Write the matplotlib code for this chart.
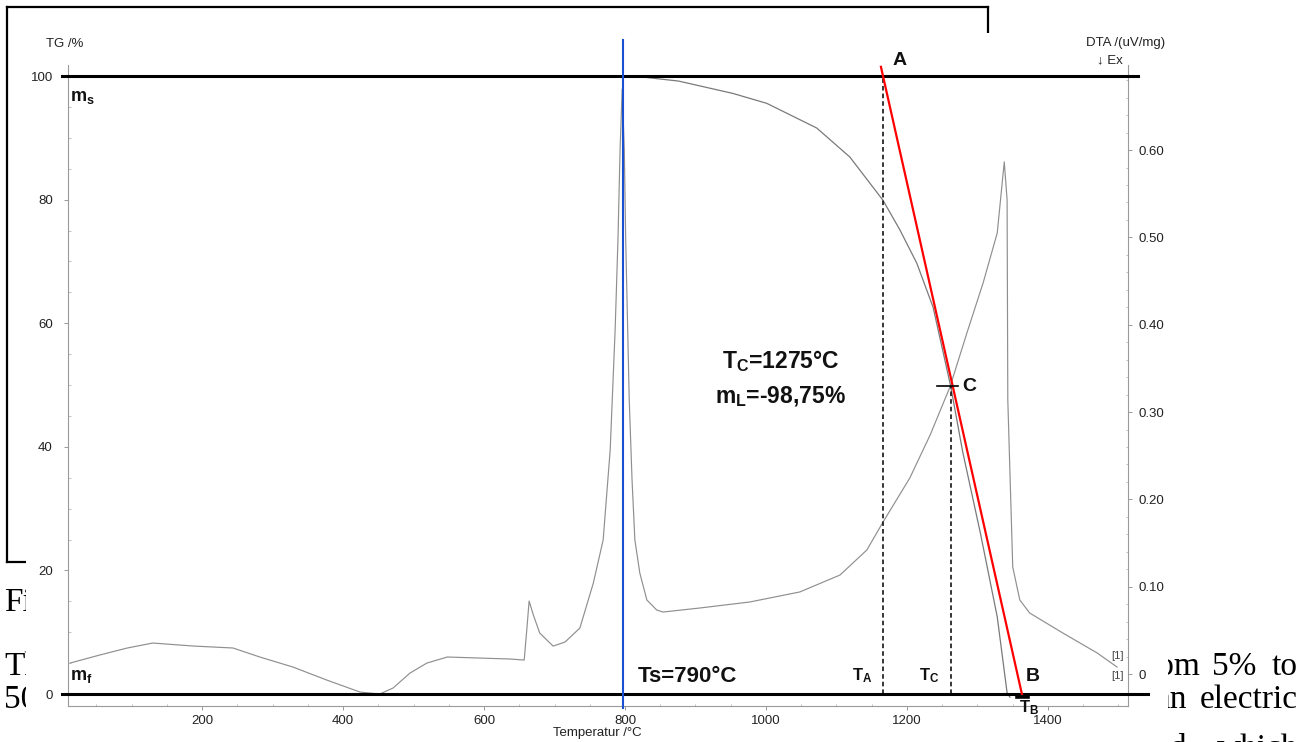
import matplotlib
matplotlib.use("Agg")
import matplotlib.pyplot as plt
from matplotlib.patches import Rectangle
from matplotlib.lines import Line2D
import numpy as np

plt.rcParams['font.family'] = ['Liberation Sans', 'DejaVu Sans']
plt.rcParams['mathtext.fontset'] = 'custom'
plt.rcParams['mathtext.rm'] = 'Liberation Sans'
plt.rcParams['mathtext.bf'] = 'Liberation Sans:bold'
plt.rcParams['mathtext.it'] = 'Liberation Sans:italic'

# ---------------- data ----------------
tg_T = [15, 400, 700, 821, 876, 953, 1001, 1072, 1119, 1166, 1190, 1214, 1237,
        1262, 1279, 1304, 1328, 1342, 1346]
tg_val = [100.0, 100.0, 100.0, 99.9, 99.2, 97.2, 95.6, 91.6, 86.9, 79.9, 75.1,
          69.7, 62.6, 49.8, 39.2, 26.1, 12.5, 0.2, -0.5]

dta_T = [13, 55, 94, 130, 187, 244, 282, 329, 377, 424, 452, 471, 495, 519, 548,
         594, 637, 657, 661, 664, 670, 679, 698, 715, 736, 755, 769, 779, 786,
         790, 793, 796, 799, 801, 806, 810, 814, 821, 831, 845, 854, 906, 977,
         1048, 1105, 1143, 1166, 1204, 1233, 1261, 1285, 1308, 1328, 1338, 1342,
         1343, 1350, 1360, 1374, 1421, 1470, 1498]
dta_val = [0.0126, 0.0218, 0.0298, 0.0355, 0.0321, 0.0298, 0.0195, 0.0080,
           -0.0069, -0.0206, -0.0229, -0.0160, 0.0011, 0.0126, 0.0195, 0.0183,
           0.0172, 0.0160, 0.0538, 0.0836, 0.0676, 0.0470, 0.0320, 0.0367,
           0.0527, 0.1040, 0.1535, 0.2566, 0.3940, 0.4970, 0.6000, 0.6700,
           0.6000, 0.4970, 0.3140, 0.2220, 0.1535, 0.1157, 0.0848, 0.0733,
           0.0710, 0.0756, 0.0825, 0.0940, 0.1134, 0.1420, 0.1740, 0.2245,
           0.2740, 0.3288, 0.3906, 0.4479, 0.5050, 0.5865, 0.5430, 0.3139,
           0.1226, 0.0848, 0.0699, 0.0470, 0.0240, 0.0080]

x_ticks = [200, 400, 600, 800, 1000, 1200, 1400]
tg_ticks = [0, 20, 40, 60, 80, 100]
dta_ticks = [0, 0.1, 0.2, 0.3, 0.4, 0.5, 0.6]
dta_tick_labels = ['0', '0.10', '0.20', '0.30', '0.40', '0.50', '0.60']

m_s, m_f = 100, 0          # reference mass levels
Ts_line = 797              # solidus marker (labelled 790 °C)
T_A, T_C, T_B = 1166, 1262, 1363
C_mass = 49.8

# ---------------- figure ----------------
W, H = 1306, 742
fig = plt.figure(figsize=(W / 100, H / 100), dpi=100)
fx = lambda px: px / W
fy = lambda py: 1 - py / H

# background document (partly hidden behind the chart image)
for xs, ys in [([7, 988], [7, 7]), ([988, 988], [7, 60]), ([7, 7], [7, 562]), ([7, 60], [562, 562])]:
    fig.add_artist(Line2D([fx(v) for v in xs], [fy(v) for v in ys], transform=fig.transFigure,
                          color='black', lw=1.6, zorder=-3))
serif = dict(family='Liberation Serif', fontsize=24, va='baseline', zorder=-3, color='black')
fig.text(fx(4), fy(611), 'Fig', ha='left', **serif)
fig.text(fx(4), fy(675), 'The', ha='left', **serif)
fig.text(fx(4), fy(708), '50', ha='left', **serif)
fig.text(fx(1200), fy(675), 'from', ha='right', **serif)
fig.text(fx(1212), fy(675), '5%', ha='left', **serif)
fig.text(fx(1298), fy(675), 'to', ha='right', **serif)
fig.text(fx(1187), fy(708), 'an', ha='right', **serif)
fig.text(fx(1298), fy(708), 'electric', ha='right', **serif)
fig.text(fx(1187), fy(757), 'ed', ha='right', **serif)
fig.text(fx(1298), fy(757), 'which', ha='right', **serif)
fig.add_artist(Rectangle((fx(26), 0), fx(1168) - fx(26), fy(33), transform=fig.transFigure,
                         facecolor='white', edgecolor='none', zorder=-1))

ax = fig.add_axes([fx(68), fy(706), fx(1128) - fx(68), fy(65) - fy(706)])
ax2 = ax.twinx()
ax.set_zorder(ax2.get_zorder() + 1)
ax.patch.set_visible(False)

ax.set_xlim(9.9, 1513.5)
ax.set_ylim(-1.94, 101.8)
ax2.set_ylim(-0.0366, 0.6974)

spine_c = '#9a9a9a'
for a in (ax, ax2):
    a.spines['top'].set_visible(False)
    for s in ('left', 'right', 'bottom'):
        a.spines[s].set_color(spine_c)
        a.spines[s].set_linewidth(0.8)
        a.spines[s].set_linestyle((0, (2, 1)))
ax.spines['right'].set_visible(False)
ax2.spines['left'].set_visible(False)
ax2.spines['bottom'].set_visible(False)

ax.set_xticks(x_ticks)
ax.set_xticks(np.arange(50, 1501, 50), minor=True)
ax.set_yticks(tg_ticks)
ax.set_yticks(np.arange(0, 101, 5), minor=True)
ax2.set_yticks(dta_ticks)
ax2.set_yticklabels(dta_tick_labels)
ax2.set_yticks(np.arange(0, 0.69, 0.02), minor=True)

ax.tick_params(axis='x', which='major', length=3, width=0.6, color='#888888', pad=3.5,
               labelsize=9.5, labelcolor='#222222')
ax.tick_params(axis='y', which='major', length=3, width=0.6, color='#888888', pad=8,
               labelsize=9.5, labelcolor='#222222')
ax.tick_params(which='minor', length=1.8, width=0.5, color='#aaaaaa', direction='in')
ax2.tick_params(axis='y', which='major', length=3, width=0.6, color='#888888', pad=4.5,
                labelsize=9.5, labelcolor='#222222')
ax2.tick_params(axis='y', which='minor', length=1.8, width=0.5, color='#aaaaaa', direction='in')

# curves
ax2.plot(dta_T, dta_val, color='#8f8f8f', lw=0.85)
ax.plot(tg_T, tg_val, color='#7a7a7a', lw=0.9)

# reference lines
ax.plot([1.4, 1528], [m_s, m_s], color='black', lw=2.2, clip_on=False, zorder=5)
ax.plot([1.4, 1542], [m_f, m_f], color='black', lw=2.2, clip_on=False, zorder=5)
ax.plot([Ts_line, Ts_line], [105.8, -2.3], color='#1a4fd0', lw=1.5, clip_on=False, zorder=6)
ax.plot([T_A, T_A], [m_f, m_s], color='black', lw=1.1, ls=(0, (3, 2)), zorder=6)
ax.plot([T_C, T_C], [m_f, C_mass], color='black', lw=1.1, ls=(0, (3, 2)), zorder=6)
slope = (m_f - m_s) / (T_B - T_A)
top_tg = 101.5
ax.plot([T_A + (top_tg - m_s) / slope, T_B], [top_tg, m_f], color='red', lw=1.6,
        clip_on=False, zorder=7)
ax.plot([T_C - 19, T_C + 10], [C_mass, C_mass], color='black', lw=1.2, zorder=7)
ax.plot([T_B - 7, T_B + 8], [-0.5, -0.5], color='black', lw=2.6, clip_on=False, zorder=7)

# annotations
bold = dict(fontweight='bold', color='#111111')
ax.text(1190, 102.6, 'A', ha='center', va='center', fontsize=14, **bold)
ax.text(1379, 2.9, 'B', ha='center', va='center', fontsize=14, **bold)
ax.text(1288, 49.8, 'C', ha='center', va='center', fontsize=14, **bold)
ax.text(1373, -2.2, r'T$_\mathbf{B}$', ha='center', va='center', fontsize=12, **bold)
ax.text(1137, 2.9, r'T$_\mathbf{A}$', ha='center', va='center', fontsize=12, **bold)
ax.text(1231, 2.9, r'T$_\mathbf{C}$', ha='center', va='center', fontsize=12, **bold)
ax.text(888, 2.9, 'Ts=790°C', ha='center', va='center', fontsize=16, **bold)
ax.text(1021, 53.9, r'T$_\mathbf{C}$=1275°C', ha='center', va='center', fontsize=16.5, **bold)
ax.text(1021, 48.2, r'm$_\mathbf{L}$=-98,75%', ha='center', va='center', fontsize=16.5, **bold)
ax.text(13, 96.6, r'm$_\mathbf{s}$', ha='left', va='center', fontsize=13, **bold)
ax.text(13, 2.9, r'm$_\mathbf{f}$', ha='left', va='center', fontsize=13, **bold)
ax2.text(1499, 0.0206, '[1]', ha='center', va='center', fontsize=8, color='#444444')
ax2.text(1499, -0.0023, '[1]', ha='center', va='center', fontsize=8, color='#444444')

fig.text(fx(65), fy(44), 'TG /%', ha='center', va='center', fontsize=9.5, color='#222222')
fig.text(fx(1126), fy(43), 'DTA /(uV/mg)', ha='center', va='center', fontsize=9.5, color='#222222')
fig.text(fx(1097), fy(60), '↓ Ex', ha='left', va='center', fontsize=9.5, color='#222222')
fig.text(fx(597), fy(733), 'Temperatur /°C', ha='center', va='center', fontsize=9.5, color='#222222')

fig.savefig('out.png', dpi=100, facecolor='white')
